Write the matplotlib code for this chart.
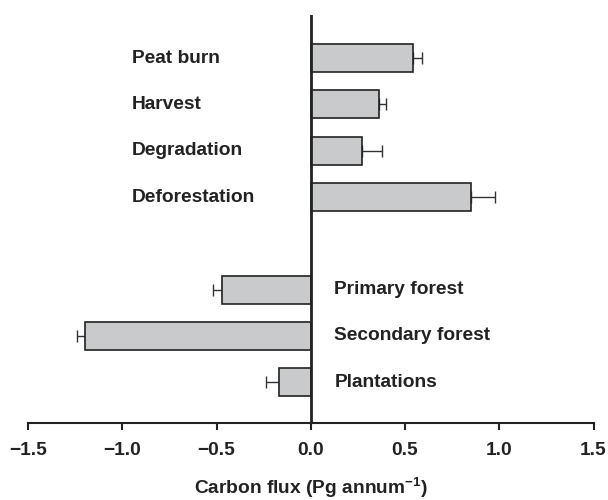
import numpy as np
import matplotlib
matplotlib.use("Agg")
import matplotlib.pyplot as plt

plt.rcParams["font.family"] = ["Liberation Sans", "DejaVu Sans"]
plt.rcParams["font.weight"] = "bold"
plt.rcParams["mathtext.fontset"] = "custom"
plt.rcParams["mathtext.rm"] = "Liberation Sans:bold"
plt.rcParams["mathtext.it"] = "Liberation Sans:bold"
plt.rcParams["mathtext.bf"] = "Liberation Sans:bold"

# Data
categories = ["Peat burn", "Harvest", "Degradation", "Deforestation",
              "Primary forest", "Secondary forest", "Plantations"]
flux = [0.54, 0.36, 0.27, 0.85, -0.47, -1.20, -0.17]
flux_err = [0.05, 0.04, 0.11, 0.13, 0.05, 0.04, 0.07]
slots = [0, 1, 2, 3, 5, 6, 7]  # row 4 left empty as a gap
xticks = [-1.5, -1.0, -0.5, 0.0, 0.5, 1.0, 1.5]

flux = np.array(flux)
flux_err = np.array(flux_err)
lower = np.where(flux < 0, flux_err, 0)
upper = np.where(flux > 0, flux_err, 0)

fig = plt.figure(figsize=(6.08, 5.0), dpi=100)
ax = fig.add_axes([28 / 608, 1 - 423 / 500, (593.5 - 28) / 608, (423 - 15) / 500])

ax.barh(slots, flux, height=0.6, color="#c9cacc", edgecolor="#222222",
        linewidth=1.2, zorder=2)
ax.errorbar(flux, slots, xerr=[lower, upper], fmt="none", ecolor="#333333",
            elinewidth=1.0, capsize=4.3, capthick=1.0, zorder=1)

# zero line
ax.axvline(0, color="#222222", linewidth=2.0, zorder=3)

# category labels on the opposite side of the zero line
for name, val, s in zip(categories, flux, slots):
    if val > 0:
        ax.text(-0.948, s, name, ha="left", va="center", fontsize=13.8,
                fontweight="bold", color="#222222")
    else:
        ax.text(0.125, s, name, ha="left", va="center", fontsize=13.8,
                fontweight="bold", color="#222222")

ax.set_xlim(-1.5, 1.5)
ax.set_ylim(7.88, -0.93)
ax.set_xticks(xticks)
ax.set_xticklabels([f"{t:.1f}".replace("-", "\u2212") for t in xticks],
                   fontsize=13.8, fontweight="bold", color="#222222")
ax.set_yticks([])

for side in ["top", "right", "left"]:
    ax.spines[side].set_visible(False)
ax.spines["bottom"].set_linewidth(1.5)
ax.spines["bottom"].set_color("#222222")
ax.tick_params(axis="x", direction="out", length=5, width=1.5,
               color="#222222", pad=9)

ax.set_xlabel("Carbon flux (Pg annum$^{-1}$)", fontsize=13.8,
              fontweight="bold", color="#222222", labelpad=12)

fig.savefig("out.png", dpi=100)
